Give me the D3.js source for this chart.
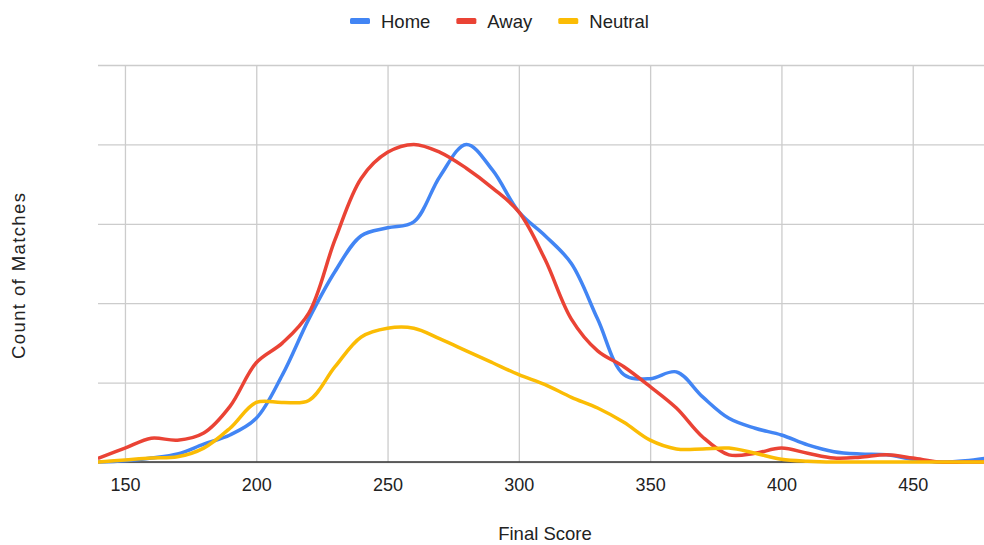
<!DOCTYPE html>
<html>
<head>
<meta charset="utf-8">
<script src="https://cdn.jsdelivr.net/npm/d3@7/dist/d3.min.js"></script>
<style>
  html, body { margin: 0; padding: 0; background: #fff; }
  svg { display: block; font-family: Arial, "Liberation Sans", sans-serif; }
</style>
</head>
<body>
<svg id="chart" width="984" height="545"></svg>
<script>
// Final score bins (step of 10)
const scores = [140,150,160,170,180,190,200,210,220,230,240,250,260,270,280,290,300,
                310,320,330,340,350,360,370,380,390,400,410,420,430,440,450,460,470,480];

// Count of matches per bin
const home = [0,0.03,0.1,0.2,0.45,0.68,1.1,2.2,3.6,4.8,5.7,5.9,6.05,7.2,8.0,7.35,6.3,
              5.7,5.0,3.6,2.2,2.1,2.27,1.64,1.1,0.85,0.68,0.43,0.26,0.2,0.18,0.07,0,0.03,0.12];
const away = [0.1,0.35,0.6,0.55,0.73,1.4,2.5,3.0,3.75,5.6,7.15,7.8,8.0,7.8,7.4,6.9,6.3,
              5.1,3.6,2.8,2.4,1.9,1.36,0.63,0.18,0.22,0.35,0.22,0.1,0.12,0.18,0.1,0,0,0];
const neutral = [0,0.05,0.1,0.13,0.35,0.85,1.5,1.5,1.55,2.4,3.15,3.37,3.37,3.1,2.8,2.5,2.2,
                 1.95,1.63,1.36,1.0,0.55,0.33,0.33,0.35,0.22,0.07,0.02,0,0,0,0,0,0,0];

const xTicks = [150,200,250,300,350,400,450];
const yTicks = [0,2,4,6,8,10];

const seriesNames = ["Home","Away","Neutral"];
const seriesColors = ["#4285F4","#EA4335","#FBBC04"];
const seriesValues = [home, away, neutral];

const svg = d3.select("#chart");
const W = 984, H = 545;

const x = d3.scaleLinear().domain([140, 480]).range([98.7, 991.5]);
const y = d3.scaleLinear().domain([0, 10]).range([462, 65]);

// clip for the plot area
svg.append("defs").append("clipPath").attr("id", "plotClip")
  .append("rect").attr("x", 98).attr("y", 40).attr("width", W - 98).attr("height", 440);

// horizontal gridlines
const yAxis = d3.axisLeft(y).tickValues(yTicks).tickSize(-(W - 98)).tickFormat("");
const gy = svg.append("g").attr("transform", "translate(98,0)").call(yAxis);
gy.select(".domain").remove();
gy.selectAll("line").attr("stroke", "#cccccc").attr("stroke-width", 1.3);

// vertical gridlines + tick labels
const xAxis = d3.axisBottom(x).tickValues(xTicks).tickSize(-(462 - 65)).tickPadding(16).tickFormat(d3.format("d"));
const gx = svg.append("g").attr("transform", "translate(0,462)").call(xAxis);
gx.select(".domain").remove();
gx.selectAll("line").attr("stroke", "#cccccc").attr("stroke-width", 1.3);
gx.selectAll("text").attr("fill", "#222").attr("font-size", 18)
  .attr("font-family", "Arial, 'Liberation Sans', sans-serif");

// baseline
svg.append("line").attr("x1", 98).attr("x2", W).attr("y1", y(0)).attr("y2", y(0))
  .attr("stroke", "#333").attr("stroke-width", 1.6);

// series
const line = d3.line()
  .x((d, i) => x(scores[i]))
  .y(d => y(d))
  .curve(d3.curveCatmullRom.alpha(0.5));

const plot = svg.append("g").attr("clip-path", "url(#plotClip)");
seriesValues.forEach((vals, k) => {
  plot.append("path")
    .datum(vals)
    .attr("d", line)
    .attr("fill", "none")
    .attr("stroke", seriesColors[k])
    .attr("stroke-width", 3.5)
    .attr("stroke-linejoin", "round")
    .attr("stroke-linecap", "round");
});

// axis titles
svg.append("text").attr("x", 545).attr("y", 540).attr("text-anchor", "middle")
  .attr("font-size", 18.5).attr("fill", "#222").text("Final Score");
svg.append("text").attr("transform", "translate(25,276) rotate(-90)")
  .attr("text-anchor", "middle").attr("font-size", 18.5).attr("fill", "#222")
  .attr("textLength", 166).attr("lengthAdjust", "spacing")
  .text("Count of Matches");

// legend
const legend = svg.append("g");
let lx = 350;
seriesNames.forEach((name, k) => {
  legend.append("rect").attr("x", lx).attr("y", 18).attr("width", 20).attr("height", 6)
    .attr("rx", 1.5).attr("fill", seriesColors[k]);
  const t = legend.append("text").attr("x", lx + 31).attr("y", 28)
    .attr("font-size", 18.5).attr("fill", "#222").text(name);
  lx += 31 + t.node().getComputedTextLength() + 26;
});
</script>
</body>
</html>
